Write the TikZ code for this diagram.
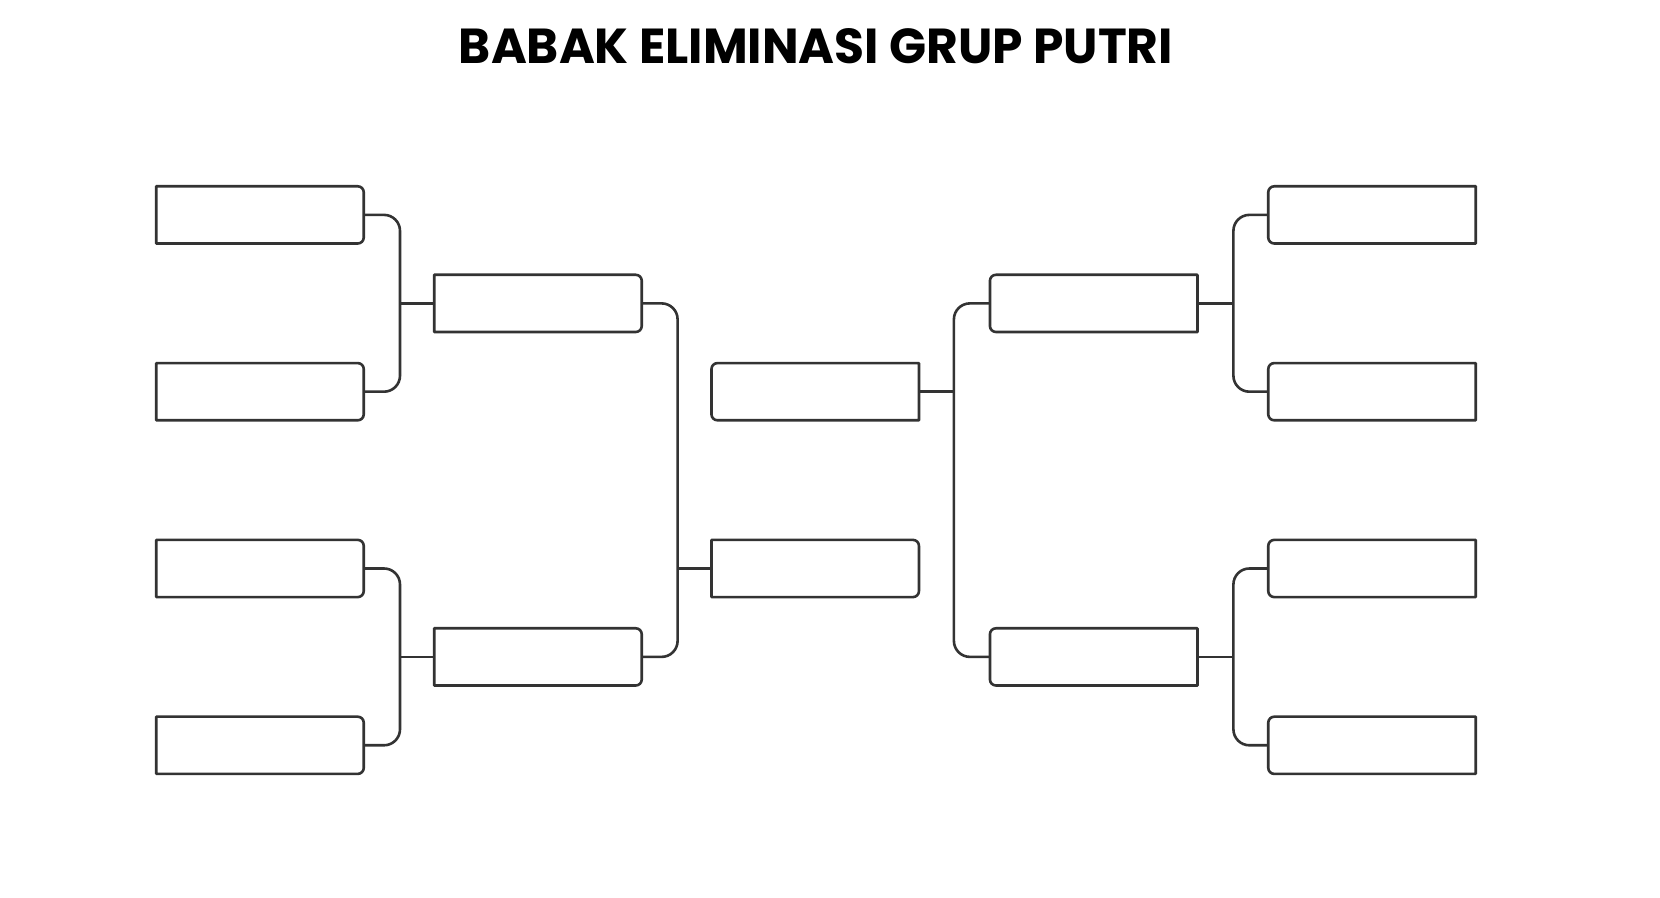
\documentclass[tikz,border=0pt]{standalone}
\usepackage{fontspec}
\usepackage{graphicx}
\newfontfamily\titlefont{Poppins}
\def\rr{3pt}
\tikzset{
  x=0.5pt, y=0.5pt,
  slot/.style={rectangle, minimum width=103.75pt, minimum height=28.6pt, inner sep=0pt, outer sep=0pt},
  boxline/.style={draw=black!80, line width=1.3pt, line join=round},
  link/.style={draw=black!80, line width=1.3pt, rounded corners=8pt},
  title/.style={inner sep=0pt, font=\titlefont\bfseries}
}
\newcommand\slotR[1]{\draw[boxline] (#1.north west) -- ([xshift=-\rr]#1.north east) arc[start angle=90,end angle=0,radius=\rr] -- ([yshift=\rr]#1.south east) arc[start angle=0,end angle=-90,radius=\rr] -- (#1.south west) -- cycle;}
\newcommand\slotL[1]{\draw[boxline] (#1.north east) -- ([xshift=\rr]#1.north west) arc[start angle=90,end angle=180,radius=\rr] -- ([yshift=\rr]#1.south west) arc[start angle=180,end angle=270,radius=\rr] -- (#1.south east) -- cycle;}
\begin{document}
\begin{tikzpicture}
\fill[white] (0,0) rectangle (1660,898);
\useasboundingbox (0,0) rectangle (1660,898);
% title
\node[title] (title) at (816,852) {\resizebox{357pt}{17.5pt}{BABAK ELIMINASI GRUP PUTRI}};
% left round 1
\node[slot] (a1) at (260,683.1) {};
\node[slot] (a2) at (260,506.3) {};
\node[slot] (a3) at (260,329.5) {};
\node[slot] (a4) at (260,152.7) {};
% left round 2
\node[slot] (b1) at (538,594.6) {};
\node[slot] (b2) at (538,241.1) {};
% center
\node[slot] (c1) at (815.2,506.3) {};
\node[slot] (c2) at (815.2,329.5) {};
% right round 2
\node[slot] (d1) at (1093.7,594.6) {};
\node[slot] (d2) at (1093.7,241.1) {};
% right round 1
\node[slot] (e1) at (1372,683.1) {};
\node[slot] (e2) at (1372,506.3) {};
\node[slot] (e3) at (1372,329.5) {};
\node[slot] (e4) at (1372,152.7) {};
% outlines
\foreach \n in {a1,a2,a3,a4,b1,b2,c2} {\slotR{\n}}
\foreach \n in {c1,d1,d2,e1,e2,e3,e4} {\slotL{\n}}
% junctions
\coordinate (j1) at (400,594.6);
\coordinate (j2) at (400,241.1);
\coordinate (j3) at (677.6,329.5);
\coordinate (j4) at (953.9,506.3);
\coordinate (j5) at (1233.4,594.6);
\coordinate (j6) at (1233.4,241.1);
% connectors left
\draw[link] (a1.east) -| (j1) |- (a2.east);
\draw[link] (j1) -- (b1.west);
\draw[link] (a3.east) -| (j2) |- (a4.east);
\draw[link] (j2) -- (b2.west);
\draw[link] (b1.east) -| (j3) |- (b2.east);
\draw[link] (j3) -- (c2.west);
% connectors right
\draw[link] (d1.west) -| (j4) |- (d2.west);
\draw[link] (c1.east) -- (j4);
\draw[link] (e1.west) -| (j5) |- (e2.west);
\draw[link] (d1.east) -- (j5);
\draw[link] (e3.west) -| (j6) |- (e4.west);
\draw[link] (d2.east) -- (j6);
\end{tikzpicture}
\end{document}
